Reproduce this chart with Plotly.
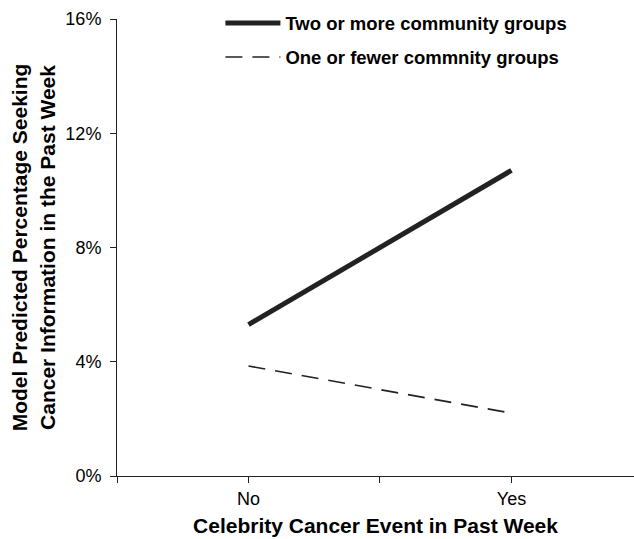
import plotly.graph_objects as go

# Predicted percentages (in %) by celebrity cancer event
event_labels = ["No", "Yes"]
event_pos = [0, 1]
two_or_more = [5.3, 10.7]
one_or_fewer = [3.85, 2.2]

y_ticks = [0, 4, 8, 12, 16]
y_tick_text = ["0%", "4%", "8%", "12%", "16%"]

font_family = "Liberation Sans, Arial, sans-serif"
ink = "#222222"

fig = go.Figure()
fig.add_trace(go.Scatter(
    x=event_pos, y=two_or_more, mode="lines",
    name="<b>Two or more community groups</b>",
    legendgroup="a",
    line=dict(color=ink, width=5),
))
fig.add_trace(go.Scatter(
    x=event_pos, y=one_or_fewer, mode="lines",
    name="<b>One or fewer commnity groups</b>",
    legendgroup="b",
    line=dict(color=ink, width=1.6, dash="17px,10px"),
))

fig.update_layout(
    width=634, height=539,
    margin=dict(l=117, r=0, t=19, b=63),
    plot_bgcolor="white", paper_bgcolor="white",
    font=dict(family=font_family, color="black", size=18),
    showlegend=True,
    legend=dict(
        x=0.2, y=1.032, xanchor="left", yanchor="top",
        bgcolor="rgba(0,0,0,0)",
        font=dict(size=18.5, color="black"),
        tracegroupgap=7,
        traceorder="grouped",
        itemwidth=55,
    ),
    xaxis=dict(
        range=[-0.5, 1.466],
        tickmode="array",
        tickvals=[-0.5, 0, 0.5, 1, 1.5],
        ticktext=["", event_labels[0], "", event_labels[1], ""],
        ticks="outside", ticklen=6, tickcolor=ink, tickwidth=1,
        showline=True, linecolor=ink, linewidth=1,
        showgrid=False, zeroline=False,
        tickfont=dict(size=18),
        title=dict(text="<b>Celebrity Cancer Event in Past Week</b>",
                   font=dict(size=21), standoff=10),
    ),
    yaxis=dict(
        range=[0, 16],
        tickmode="array",
        tickvals=y_ticks,
        ticktext=y_tick_text,
        ticks="outside", ticklen=6, tickcolor=ink, tickwidth=1,
        ticklabelstandoff=5,
        showline=True, linecolor=ink, linewidth=1,
        showgrid=False, zeroline=False,
        tickfont=dict(size=18),
        title=dict(text="<b>Model Predicted Percentage Seeking<br>Cancer Information in the Past Week</b>",
                   font=dict(size=21), standoff=4),
    ),
)

fig.write_html("out.html")
